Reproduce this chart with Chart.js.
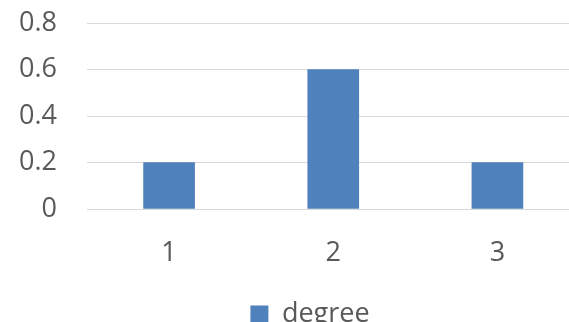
<!DOCTYPE html>
<html>
<head>
<meta charset="utf-8">
<script src="https://cdn.jsdelivr.net/npm/chart.js@4.4.1/dist/chart.umd.min.js"></script>
<style>
  html, body { margin: 0; padding: 0; background: #fff; overflow: hidden; }
  #wrap { width: 569px; height: 322px; overflow: hidden; position: relative; }
  #c { position: absolute; left: 0; top: 0; }
</style>
</head>
<body>
<div id="wrap"><canvas id="c" width="620" height="338"></canvas></div>
<script>
// --- Data ---
const categories = ['1', '2', '3'];
const degree = [0.2, 0.6, 0.2];
const yTicks = ['0', '0.2', '0.4', '0.6', '0.8'];

const font = { family: "'Open Sans', sans-serif", size: 27 };
const textColor = '#595959';
const gridColor = '#d9d9d9';

new Chart(document.getElementById('c'), {
    type: 'bar',
    data: {
        labels: categories,
        datasets: [{ label: 'degree', data: degree, backgroundColor: '#4f81bd', barThickness: 51 }]
    },
    options: {
        responsive: false,
        animation: false,
        layout: { padding: 0 },
        plugins: {
            tooltip: { enabled: false },
            legend: {
                position: 'bottom',
                labels: { font, color: textColor, boxWidth: 18, boxHeight: 18, padding: 10 }
            }
        },
        scales: {
            x: {
                grid: { display: false },
                border: { display: true, color: gridColor, width: 1 },
                ticks: { font, color: textColor, padding: 20 },
                afterFit: s => { s.height = 82; }
            },
            y: {
                min: 0, max: 0.8,
                grid: { color: gridColor, lineWidth: 1, drawTicks: false },
                border: { display: false },
                ticks: { stepSize: 0.2, font, color: textColor, padding: 30, callback: (v, i) => yTicks[i] },
                afterFit: s => { s.width = 87; s.paddingTop = 23; s.paddingBottom = 0; }
            },
            // empty spacer on the right so the legend sits where the reference has it
            yr: {
                position: 'right',
                grid: { display: false },
                border: { display: false },
                ticks: { display: false },
                afterFit: s => { s.width = 40.5; }
            }
        }
    }
});
</script>
</body>
</html>
